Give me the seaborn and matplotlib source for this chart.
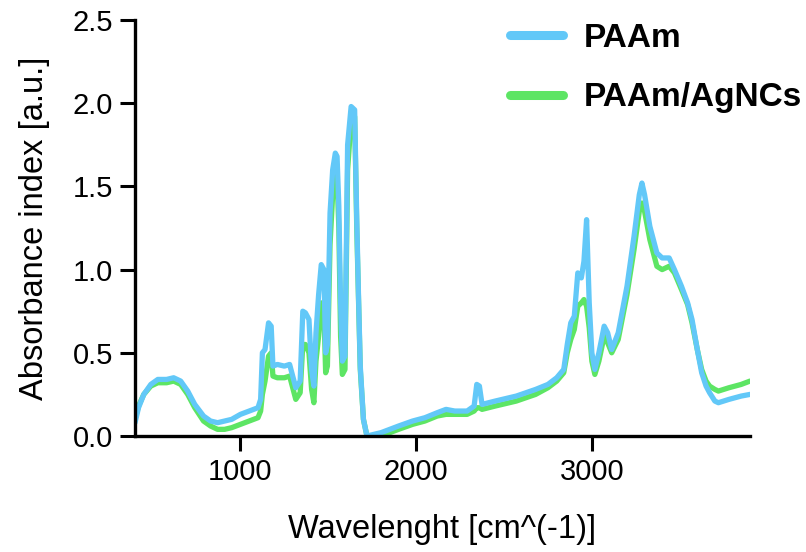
import numpy as np
import pandas as pd
import matplotlib
matplotlib.use("Agg")
import matplotlib.pyplot as plt
import seaborn as sns

# FTIR spectra: wavenumber [cm^-1] and absorbance of both samples
wavenumber = [
    400, 420, 450, 490, 530, 580, 620, 660, 700, 740, 790, 830, 870, 910, 950,
    1000, 1050, 1100, 1115, 1125, 1140, 1160, 1175, 1185, 1210, 1250, 1280, 1300,
    1315, 1340, 1355, 1370, 1390, 1405, 1418, 1430, 1445, 1460, 1475, 1485, 1495,
    1510, 1525, 1540, 1550, 1560, 1570, 1580, 1595, 1610, 1630, 1650, 1662, 1672,
    1682, 1700, 1720, 1760, 1800, 1850, 1900, 1980, 2050, 2120, 2170, 2220, 2290,
    2330, 2345, 2360, 2375, 2450, 2570, 2680, 2750, 2800, 2840, 2860, 2880, 2900,
    2920, 2940, 2955, 2970, 2985, 3000, 3017, 3040, 3070, 3090, 3113, 3150, 3200,
    3240, 3270, 3285, 3300, 3330, 3370, 3400, 3440, 3470, 3510, 3545, 3570, 3600,
    3625, 3650, 3670, 3700, 3720, 3780, 3850, 3900,
]
paam = [
    0.08, 0.17, 0.25, 0.31, 0.34, 0.34, 0.35, 0.33, 0.27, 0.19, 0.12, 0.09, 0.08, 0.09, 0.10,
    0.13, 0.15, 0.17, 0.22, 0.50, 0.52, 0.68, 0.66, 0.42, 0.43, 0.42, 0.43, 0.35,
    0.29, 0.33, 0.75, 0.74, 0.70, 0.40, 0.30, 0.62, 0.85, 1.03, 1.00, 0.50, 0.55,
    1.34, 1.60, 1.70, 1.68, 1.38, 0.80, 0.45, 0.48, 1.75, 1.98, 1.96, 1.30, 0.84,
    0.42, 0.10, 0.00, 0.01, 0.02, 0.04, 0.06, 0.09, 0.11, 0.14, 0.16, 0.15, 0.15,
    0.18, 0.31, 0.30, 0.19, 0.21, 0.24, 0.28, 0.31, 0.35, 0.40, 0.55, 0.68, 0.72,
    0.98, 0.95, 1.05, 1.30, 0.80, 0.50, 0.40, 0.50, 0.66, 0.62, 0.52, 0.62, 0.90,
    1.20, 1.45, 1.52, 1.45, 1.26, 1.10, 1.07, 1.07, 1.00, 0.90, 0.80, 0.70, 0.52,
    0.38, 0.30, 0.26, 0.21, 0.20, 0.22, 0.24, 0.25,
]
paam_agncs = [
    0.10, 0.18, 0.25, 0.30, 0.32, 0.32, 0.33, 0.31, 0.25, 0.17, 0.09, 0.06, 0.04, 0.04, 0.05,
    0.07, 0.09, 0.11, 0.15, 0.25, 0.33, 0.48, 0.50, 0.36, 0.35, 0.35, 0.36, 0.28,
    0.22, 0.26, 0.55, 0.55, 0.50, 0.28, 0.20, 0.45, 0.60, 0.80, 0.75, 0.38, 0.42,
    1.15, 1.45, 1.60, 1.55, 1.25, 0.60, 0.37, 0.40, 1.60, 1.90, 1.92, 1.25, 0.82,
    0.40, 0.10, 0.00, 0.00, 0.01, 0.02, 0.04, 0.07, 0.09, 0.12, 0.13, 0.13, 0.13,
    0.15, 0.17, 0.17, 0.16, 0.18, 0.21, 0.25, 0.29, 0.33, 0.38, 0.50, 0.58, 0.64,
    0.78, 0.80, 0.82, 0.78, 0.65, 0.45, 0.37, 0.45, 0.60, 0.56, 0.50, 0.58, 0.85,
    1.12, 1.35, 1.40, 1.35, 1.18, 1.02, 1.00, 1.02, 0.98, 0.88, 0.79, 0.68, 0.52,
    0.40, 0.33, 0.30, 0.28, 0.27, 0.29, 0.31, 0.33,
]
series_names = ["PAAm", "PAAm/AgNCs"]
series_colors = {"PAAm": "#62C8F8", "PAAm/AgNCs": "#5DE564"}
x_ticks = [1000, 2000, 3000]
y_ticks = [0.0, 0.5, 1.0, 1.5, 2.0, 2.5]

df = pd.DataFrame({
    "wavenumber": wavenumber * 2,
    "absorbance": paam + paam_agncs,
    "sample": [series_names[0]] * len(wavenumber) + [series_names[1]] * len(wavenumber),
})

sns.set_theme(style="ticks")
plt.rcParams["font.family"] = ["Liberation Sans", "DejaVu Sans"]
plt.rcParams["text.color"] = "black"
plt.rcParams["axes.labelcolor"] = "black"

fig = plt.figure(figsize=(8.06, 5.52), dpi=100)
ax = fig.add_axes([135 / 806, 1 - 436 / 552, 615 / 806, 416 / 552])

# composite sample underneath, pure PAAm drawn on top
for name in [series_names[1], series_names[0]]:
    sns.lineplot(data=df[df["sample"] == name], x="wavenumber", y="absorbance",
                 color=series_colors[name], linewidth=3.8, ax=ax, label=name,
                 estimator=None, sort=True)

ax.set_xlim(400, 3900)
ax.set_ylim(0, 2.5)
ax.set_xticks(x_ticks)
ax.set_yticks(y_ticks)
ax.set_yticklabels([f"{v:.1f}" for v in y_ticks])
ax.tick_params(axis="both", direction="out", length=11, width=2.2, color="black",
               labelsize=21, pad=5, labelcolor="black")
for side in ["top", "right"]:
    ax.spines[side].set_visible(False)
for side in ["left", "bottom"]:
    ax.spines[side].set_linewidth(2.4)
    ax.spines[side].set_color("black")

ax.set_xlabel("Wavelenght [cm^(-1)]", fontsize=23.5, labelpad=20, color="black")
ax.set_ylabel("Absorbance index [a.u.]", fontsize=23.5, labelpad=16, color="black")

handles, labels = ax.get_legend_handles_labels()
order = [labels.index(n) for n in series_names]
leg = ax.legend([handles[i] for i in order], [labels[i] for i in order],
                loc="upper left", bbox_to_anchor=(510 / 806, 1 - 23 / 552),
                bbox_transform=fig.transFigure, frameon=False,
                prop={"family": "Liberation Sans", "weight": "bold", "size": 24},
                handlelength=1.6, handletextpad=0.6, labelspacing=0.85,
                borderpad=0, borderaxespad=0)
for line in leg.get_lines():
    line.set_linewidth(6.5)
    line.set_solid_capstyle("round")

fig.savefig("out.png", dpi=100)
